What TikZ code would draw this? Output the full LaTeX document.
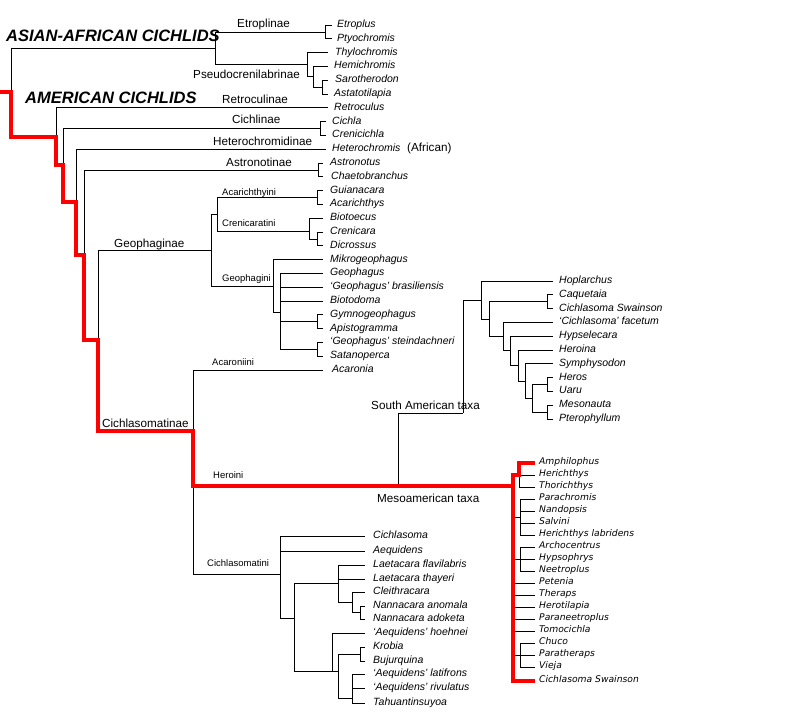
\documentclass[tikz,border=0pt]{standalone}
\usepackage{fontspec}
\setmainfont{Liberation Sans}
\newfontfamily\mesofont{DejaVu Sans}
\tikzset{
  br/.style={line width=0.9pt, black},
  rd/.style={line width=3.3pt, red, line join=miter},
  leaf/.style={anchor=base west, inner sep=0pt, font=\fontsize{10.5}{12}\selectfont\itshape, yshift=-2.5pt},
  mleaf/.style={anchor=base west, inner sep=0pt, font=\fontsize{9.2}{11}\selectfont\mesofont\itshape, yshift=-1.2pt},
  lab/.style={anchor=base west, inner sep=0pt, font=\fontsize{11.7}{14}\selectfont},
  slab/.style={anchor=base west, inner sep=0pt, font=\fontsize{9.5}{11}\selectfont},
  biglab/.style={anchor=base west, inner sep=0pt, font=\fontsize{16.5}{20}\selectfont\bfseries\itshape},
}
% [style] name x0 x1 xt y text
\newcommand\lf[7][leaf]{\draw[br] (#3,#6) -- (#4,#6); \node[#1] (#2) at (#5,#6) {#7};}
\begin{document}
\begin{tikzpicture}[x=1pt,y=-1pt]
\useasboundingbox[fill=white] (0,0) rectangle (801,717);

% ---------- Asian-African ----------
\draw[br] (11,48) -- (11,92);
\draw[br] (11,48) -- (215,48);
\draw[br] (215,32) -- (215,64);
\draw[br] (215,32) -- (325,32);
\draw[br] (325,25) -- (325,38.8);
\draw[br] (215,64) -- (307,64);
\draw[br] (307,52.6) -- (307,76.7);
\draw[br] (307,76.7) -- (313,76.7);
\draw[br] (313,66.4) -- (313,87.1);
\draw[br] (313,87.1) -- (322,87.1);
\draw[br] (322,80.2) -- (322,94);
\lf{etroplus}{325}{332}{337}{25}{Etroplus}
\lf{ptyo}{325}{332}{337}{38.8}{Ptyochromis}
\lf{thylo}{307}{328}{335}{52.6}{Thylochromis}
\lf{hemi}{313}{328}{334}{66.4}{Hemichromis}
\lf{saro}{322}{328}{335}{80.2}{Sarotherodon}
\lf{asta}{322}{328}{334}{94}{Astatotilapia}

% ---------- American ----------
\draw[br] (56,107.8) -- (56,137);
\draw[br] (63,128.5) -- (63,165);
\draw[br] (63,128.5) -- (320,128.5);
\draw[br] (320,121.6) -- (320,135.4);
\draw[br] (76,149.2) -- (76,202);
\draw[br] (84,170) -- (84,255);
\draw[br] (84,170) -- (318,170);
\draw[br] (318,163) -- (318,176.8);
\draw[br] (98,250) -- (98,340);
\draw[br] (98,250) -- (211,250);
\draw[br] (211,214) -- (211,286);
\draw[br] (211,214) -- (217,214);
\draw[br] (217,197.5) -- (217,231);
\draw[br] (217,197.5) -- (317,197.5);
\draw[br] (317,190.6) -- (317,204.4);
\draw[br] (217,231) -- (309,231);
\draw[br] (309,218.2) -- (309,239);
\draw[br] (309,239) -- (317,239);
\draw[br] (317,232) -- (317,245.8);
\draw[br] (211,286) -- (273,286);
\draw[br] (273,259.6) -- (273,312);
\draw[br] (273,312) -- (280,312);
\draw[br] (280,273.4) -- (280,349.3);
\draw[br] (280,321.7) -- (317,321.7);
\draw[br] (317,314.8) -- (317,328.6);
\draw[br] (280,349.3) -- (317,349.3);
\draw[br] (317,342.4) -- (317,356.2);
\draw[br] (193,370) -- (193,431);
\draw[br] (193,486) -- (193,574);

\lf{retro}{56}{328}{334}{107.8}{Retroculus}
\lf{cichla}{320}{326}{332}{121.6}{Cichla}
\lf{creni}{320}{326}{332}{135.4}{Crenicichla}
\lf{hetero}{76}{326}{332}{149.2}{Heterochromis}
\lf{astro}{318}{323}{330}{163}{Astronotus}
\lf{chaeto}{318}{323}{331}{176.8}{Chaetobranchus}
\lf{guia}{317}{323}{330}{190.6}{Guianacara}
\lf{acarich}{317}{323}{330}{204.4}{Acarichthys}
\lf{biotoe}{309}{323}{330}{218.2}{Biotoecus}
\lf{crenicara}{317}{323}{330}{232}{Crenicara}
\lf{dicro}{317}{323}{330}{245.8}{Dicrossus}
\lf{mikro}{273}{323}{330}{259.6}{Mikrogeophagus}
\lf{geoph}{280}{323}{330}{273.4}{Geophagus}
\lf{gbras}{280}{323}{330}{287.2}{‘Geophagus’ brasiliensis}
\lf{biotod}{280}{323}{330}{301}{Biotodoma}
\lf{gymno}{317}{323}{330}{314.8}{Gymnogeophagus}
\lf{apisto}{317}{323}{330}{328.6}{Apistogramma}
\lf{gstein}{317}{323}{330}{342.4}{‘Geophagus’ steindachneri}
\lf{satano}{317}{323}{330}{356.2}{Satanoperca}
\lf{acaronia}{193}{323}{332}{370}{Acaronia}

% ---------- South American taxa ----------
\draw[br] (398,413) -- (398,486);
\draw[br] (398,413) -- (463,413);
\draw[br] (463,300) -- (463,413);
\draw[br] (463,300) -- (481,300);
\draw[br] (481,281) -- (481,319.2);
\draw[br] (481,319.2) -- (489,319.2);
\draw[br] (489,301.7) -- (489,336.6);
\draw[br] (489,301.7) -- (547,301.7);
\draw[br] (547,294.8) -- (547,308.6);
\draw[br] (489,336.6) -- (503,336.6);
\draw[br] (503,322.4) -- (503,350.9);
\draw[br] (503,350.9) -- (510,350.9);
\draw[br] (510,336.2) -- (510,365.5);
\draw[br] (510,365.5) -- (518,365.5);
\draw[br] (518,350) -- (518,381);
\draw[br] (518,381) -- (525,381);
\draw[br] (525,363.8) -- (525,398.3);
\draw[br] (525,398.3) -- (532,398.3);
\draw[br] (532,384.5) -- (532,412.1);
\draw[br] (532,384.5) -- (547,384.5);
\draw[br] (547,377.6) -- (547,391.4);
\draw[br] (532,412.1) -- (547,412.1);
\draw[br] (547,405.2) -- (547,419);
\lf{hoplar}{481}{553}{559}{281}{Hoplarchus}
\lf{caque}{547}{553}{559}{294.8}{Caquetaia}
\lf{swainsa}{547}{553}{559}{308.6}{Cichlasoma Swainson}
\lf{facet}{503}{553}{559}{322.4}{‘Cichlasoma’ facetum}
\lf{hypsel}{510}{553}{559}{336.2}{Hypselecara}
\lf{heroina}{518}{553}{559}{350}{Heroina}
\lf{symph}{525}{553}{559}{363.8}{Symphysodon}
\lf{heros}{547}{553}{559}{377.6}{Heros}
\lf{uaru}{547}{553}{559}{391.4}{Uaru}
\lf{mesona}{547}{553}{559}{405.2}{Mesonauta}
\lf{ptero}{547}{553}{559}{419}{Pterophyllum}

% ---------- Mesoamerican taxa ----------
\draw[br] (519,475) -- (519,487);
\draw[br] (513,517) -- (520,517);
\draw[br] (520,499) -- (520,535);
\draw[br] (513,559) -- (520,559);
\draw[br] (520,547) -- (520,571);
\draw[br] (513,655) -- (520,655);
\draw[br] (520,643) -- (520,667);
\node[mleaf] (amphi) at (539,463) {Amphilophus};
\lf[mleaf]{herich}{519}{535}{539}{475}{Herichthys}
\lf[mleaf]{thori}{519}{535}{539}{487}{Thorichthys}
\lf[mleaf]{parach}{520}{535}{539}{499}{Parachromis}
\lf[mleaf]{nandop}{520}{535}{539}{511}{Nandopsis}
\lf[mleaf]{salvini}{520}{535}{539}{523}{Salvini}
\lf[mleaf]{herlab}{520}{535}{539}{535}{Herichthys labridens}
\lf[mleaf]{archo}{520}{535}{539}{547}{Archocentrus}
\lf[mleaf]{hypso}{520}{535}{539}{559}{Hypsophrys}
\lf[mleaf]{neetro}{520}{535}{539}{571}{Neetroplus}
\lf[mleaf]{petenia}{513}{535}{539}{583}{Petenia}
\lf[mleaf]{theraps}{513}{535}{539}{595}{Theraps}
\lf[mleaf]{herotil}{513}{535}{539}{607}{Herotilapia}
\lf[mleaf]{paraneet}{513}{535}{539}{619}{Paraneetroplus}
\lf[mleaf]{tomoc}{513}{535}{539}{631}{Tomocichla}
\lf[mleaf]{chuco}{520}{535}{539}{643}{Chuco}
\lf[mleaf]{parath}{520}{535}{539}{655}{Paratheraps}
\lf[mleaf]{vieja}{520}{535}{539}{667}{Vieja}
\node[mleaf] (swainsb) at (539,681) {Cichlasoma Swainson};

% ---------- Cichlasomatini ----------
\draw[br] (193,574) -- (280,574);
\draw[br] (280,536) -- (280,618);
\draw[br] (280,618) -- (294,618);
\draw[br] (294,583) -- (294,671);
\draw[br] (294,583) -- (338,583);
\draw[br] (338,565) -- (338,602);
\draw[br] (338,602) -- (352,602);
\draw[br] (352,592) -- (352,612);
\draw[br] (352,612) -- (360,612);
\draw[br] (360,606) -- (360,619);
\draw[br] (294,671) -- (338,671);
\draw[br] (332,633) -- (332,671);
\draw[br] (338,654) -- (338,698);
\draw[br] (338,654) -- (360,654);
\draw[br] (360,647) -- (360,661);
\draw[br] (338,698) -- (352,698);
\draw[br] (352,674) -- (352,703);
\lf{cichlasoma}{280}{365}{373}{536}{Cichlasoma}
\lf{aequid}{280}{365}{373}{551}{Aequidens}
\lf{laetfl}{338}{365}{373}{565}{Laetacara flavilabris}
\lf{laetth}{338}{365}{373}{579}{Laetacara thayeri}
\lf{cleith}{352}{365}{373}{592}{Cleithracara}
\lf{nannan}{360}{365}{373}{606}{Nannacara anomala}
\lf{nannad}{360}{365}{373}{619}{Nannacara adoketa}
\lf{aehoeh}{332}{365}{373}{633}{‘Aequidens’ hoehnei}
\lf{krobia}{360}{365}{373}{647}{Krobia}
\lf{bujur}{360}{365}{373}{661}{Bujurquina}
\lf{aelati}{352}{365}{373}{674}{‘Aequidens’ latifrons}
\lf{aerivu}{352}{365}{373}{688}{‘Aequidens’ rivulatus}
\lf{tahuan}{352}{365}{373}{703}{Tahuantinsuyoa}

% ---------- red path ----------
\draw[rd] (0,92) -- (11,92) -- (11,137) -- (56,137) -- (56,165) -- (63,165)
  -- (63,202) -- (76,202) -- (76,255) -- (84,255) -- (84,340) -- (98,340)
  -- (98,431) -- (193,431) -- (193,486) -- (513,486);
\draw[rd] (amphi.west |- 0,463) ++(-4,0) -- (519,463) -- (519,475) -- (513,475)
  -- (513,681) -- ([xshift=-4pt]swainsb.west |- 0,681);

% ---------- labels ----------
\node[biglab] (asaf) at (6,42) {ASIAN-AFRICAN CICHLIDS};
\node[biglab] (amer) at (25,103) {AMERICAN CICHLIDS};
\node[lab] (etrop) at (237,27.5) {Etroplinae};
\node[lab] (pseudo) at (193,78.5) {Pseudocrenilabrinae};
\node[lab] (retroc) at (222,103) {Retroculinae};
\node[lab] (cichlinae) at (232,123) {Cichlinae};
\node[lab] (heterochr) at (213,145.5) {Heterochromidinae};
\node[lab] (african) at (407,151) {(African)};
\node[lab] (astronot) at (226,166.5) {Astronotinae};
\node[lab] (geophaginae) at (114,247) {Geophaginae};
\node[lab] (cichlasomatinae) at (102,427) {Cichlasomatinae};
\node[slab] (acarichthyini) at (222,195) {Acarichthyini};
\node[slab] (crenicaratini) at (222,226.7) {Crenicaratini};
\node[slab] (geophagini) at (222,281.5) {Geophagini};
\node[slab] (acaroniini) at (212,365) {Acaroniini};
\node[slab] (heroini) at (213,478.3) {Heroini};
\node[slab] (cichlasomatini) at (207,566.7) {Cichlasomatini};
\node[lab] (satx) at (371,409.3) {South American taxa};
\node[lab] (metx) at (377,502.7) {Mesoamerican taxa};
\end{tikzpicture}
\end{document}
